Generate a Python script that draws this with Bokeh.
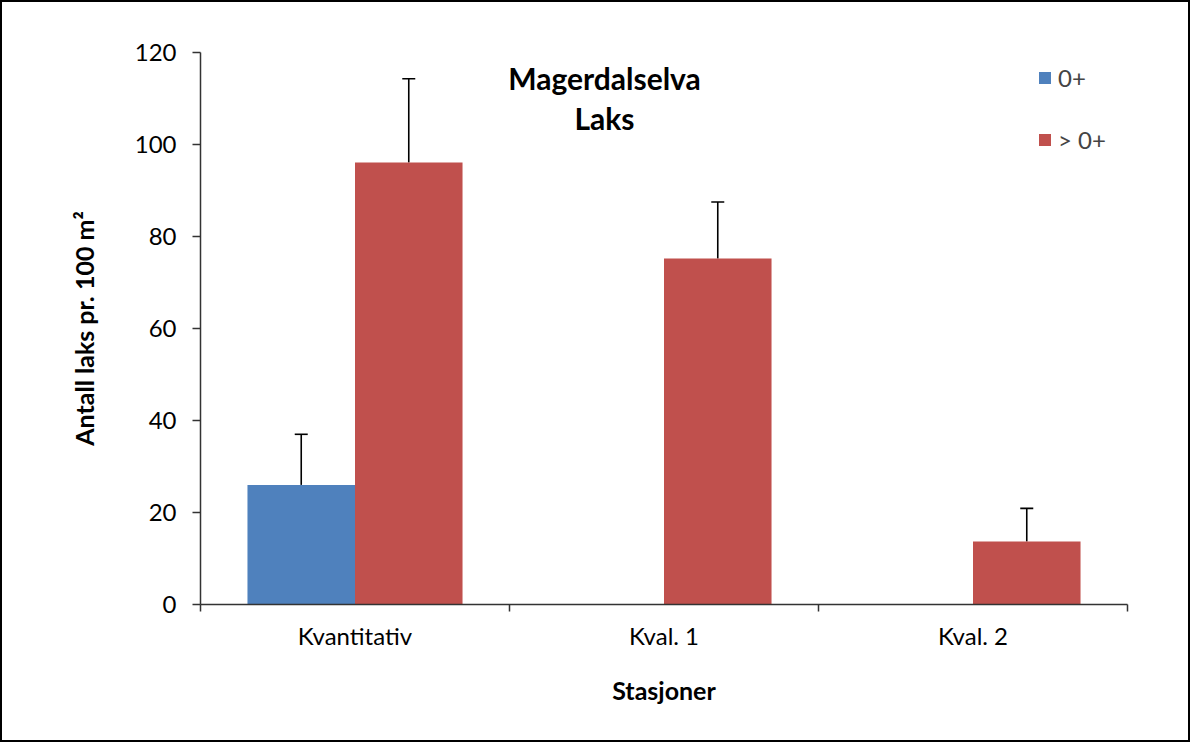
from bokeh.plotting import figure
from bokeh.models import (ColumnDataSource, FixedTicker, Whisker, TeeHead, Legend,
                          LegendItem, Label, Range1d)
from bokeh.embed import file_html
from bokeh.resources import INLINE

categories = ["Kvantitativ", "Kval. 1", "Kval. 2"]
young = [26.0, 0.0, 0.0]          # 0+
young_err = [11.0, 0.0, 0.0]
older = [96.1, 75.2, 13.7]        # > 0+
older_err = [18.2, 12.3, 7.2]
y_ticks = [0, 20, 40, 60, 80, 100, 120]

BLUE = "#4F81BD"
RED = "#C0504D"
FONT = "Lato"

centers = [i + 0.5 for i in range(len(categories))]
bw = 0.348
off = 0.174

p = figure(width=1190, height=742, output_backend="svg", toolbar_location=None,
           x_range=Range1d(0, 3), y_range=Range1d(0, 120),
           min_border_left=198, min_border_top=50, min_border_right=65,
           min_border_bottom=140)
p.styles = {"border": "2px solid black"}
p.outline_line_color = None
p.xgrid.visible = False
p.ygrid.visible = False

src_y = ColumnDataSource(dict(x=[c - off for c in centers], top=young))
src_o = ColumnDataSource(dict(x=[c + off for c in centers], top=older))

r1 = p.vbar(x="x", top="top", width=bw, bottom=0, source=src_y,
            fill_color=BLUE, line_color=None)
r2 = p.vbar(x="x", top="top", width=bw, bottom=0, source=src_o,
            fill_color=RED, line_color=None)

# error bars (only where error > 0)
ey = ColumnDataSource(dict(x=[c - off for c, e in zip(centers, young_err) if e > 0],
                           lower=[v for v, e in zip(young, young_err) if e > 0],
                           upper=[v + e for v, e in zip(young, young_err) if e > 0]))
eo = ColumnDataSource(dict(x=[c + off for c, e in zip(centers, older_err) if e > 0],
                           lower=[v for v, e in zip(older, older_err) if e > 0],
                           upper=[v + e for v, e in zip(older, older_err) if e > 0]))
for s in (ey, eo):
    w = Whisker(base="x", lower="lower", upper="upper", source=s,
                line_color="black", line_width=1.6,
                lower_head=None,
                upper_head=TeeHead(size=13, line_color="black", line_width=1.6))
    p.add_layout(w)

# axes
p.xaxis.ticker = FixedTicker(ticks=centers, minor_ticks=[0, 1, 2, 3])
p.xaxis.major_label_overrides = {c: n for c, n in zip(centers, categories)}
p.xaxis.major_tick_line_color = None
p.xaxis.minor_tick_in = 0
p.xaxis.minor_tick_out = 7
p.xaxis.minor_tick_line_color = "#333333"
p.xaxis.minor_tick_line_width = 1.5
p.xaxis.axis_line_color = "#333333"
p.xaxis.axis_line_width = 1.5
p.xaxis.major_label_text_font = FONT
p.xaxis.major_label_text_font_size = "24px"
p.xaxis.major_label_text_color = "black"
p.xaxis.major_label_standoff = 9
p.xaxis.axis_label = "Stasjoner"
p.xaxis.axis_label_text_font = FONT
p.xaxis.axis_label_text_font_size = "25px"
p.xaxis.axis_label_text_font_style = "bold"
p.xaxis.axis_label_text_color = "black"
p.xaxis.axis_label_standoff = 22

p.yaxis.ticker = FixedTicker(ticks=y_ticks, minor_ticks=[])
p.yaxis.major_tick_in = 0
p.yaxis.major_tick_out = 8
p.yaxis.major_tick_line_color = "#333333"
p.yaxis.major_tick_line_width = 1.5
p.yaxis.axis_line_color = "#333333"
p.yaxis.axis_line_width = 1.5
p.yaxis.major_label_text_font = FONT
p.yaxis.major_label_text_font_size = "24px"
p.yaxis.major_label_text_color = "black"
p.yaxis.major_label_standoff = 16
p.yaxis.axis_label = "Antall laks pr. 100 m²"
p.yaxis.axis_label_text_font = FONT
p.yaxis.axis_label_text_font_size = "25px"
p.yaxis.axis_label_text_font_style = "bold"
p.yaxis.axis_label_text_color = "black"
p.yaxis.axis_label_standoff = 33

# title inside plot
for txt, yy in (("Magerdalselva", 527), ("Laks", 487)):
    p.add_layout(Label(x=404, y=yy, x_units="screen", y_units="screen",
                       text=txt, text_font=FONT, text_font_size="30px",
                       text_font_style="bold", text_align="center",
                       text_baseline="middle", text_color="black"))

legend = Legend(items=[LegendItem(label="0+", renderers=[r1]),
                       LegendItem(label="> 0+", renderers=[r2])],
                location=(837, 450), orientation="vertical",
                glyph_width=15, glyph_height=15, spacing=33,
                label_text_font=FONT, label_text_font_size="24px",
                label_standoff=6, padding=0, margin=0,
                border_line_color=None, background_fill_alpha=0)
p.add_layout(legend)

open("out.html", "w").write(file_html(p, INLINE))
